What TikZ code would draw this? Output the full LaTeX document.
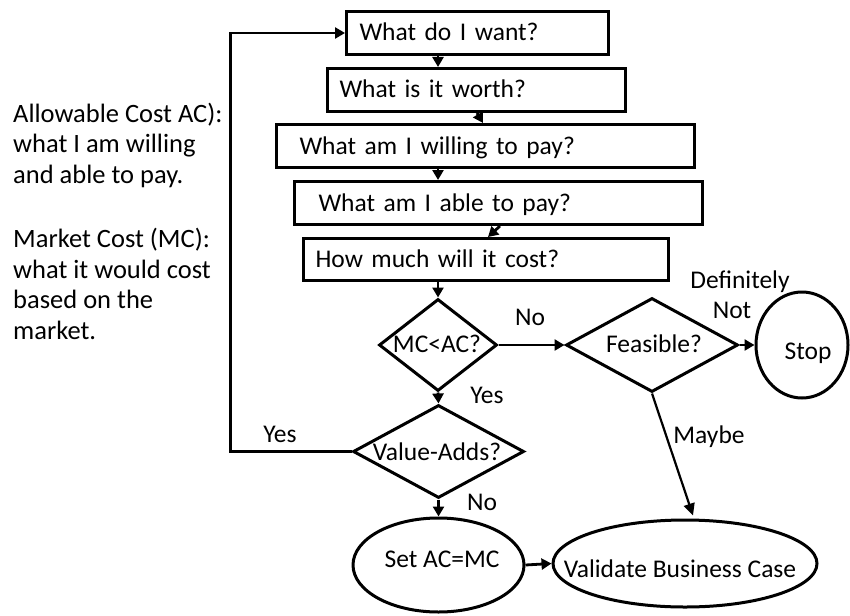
\documentclass[tikz,border=0pt]{standalone}
\usepackage{fontspec}
\setmainfont{Carlito}
\usetikzlibrary{shapes.geometric,arrows.meta}

\begin{document}
\begin{tikzpicture}[x=1pt,y=-1pt,
  txt/.style={font=\fontsize{25.5}{30}\selectfont},
  qbox/.style n args={2}{draw, line width=3pt, rectangle, anchor=north west,
    txt, align=left, text width=#1, inner xsep=#2, inner ysep=0pt,
    text height=20pt, text depth=4pt, minimum height=43pt},
  decision/.style={draw, line width=3pt, diamond, inner sep=0pt},
  terminal/.style={draw, line width=3pt, ellipse, inner sep=0pt},
  lbl/.style={txt, inner sep=0pt, anchor=base},
  note/.style={font=\fontsize{26.5}{30.5}\selectfont, align=left, inner sep=0pt, anchor=base west},
  conn/.style={line width=2.8pt, -{Triangle[length=10pt,width=11pt]}},
  thin conn/.style={line width=2.2pt, -{Triangle[length=12pt,width=11pt]}}]

\useasboundingbox (0,0) rectangle (850,615);

% definitions on the left (anchored on the last line's baseline)
\node[note] (ac) at (13,183) {Allowable Cost AC):\\what I am willing\\and able to pay.};
\node[note] (mc) at (13,339) {Market Cost (MC):\\what it would cost\\based on the\\market.};

% question boxes
\node[qbox={236pt}{13pt}] (b1) at (345,10) {What do I want?};
\node[qbox={274pt}{12pt}] (b2) at (326,67) {What is it worth?};
\node[qbox={372pt}{23pt}] (b3) at (275,123) {What am I willing to pay?};
\node[qbox={360pt}{24pt}] (b4) at (293,180) {What am I able to pay?};
\node[qbox={341pt}{12pt}, minimum height=42pt] (b5) at (302,237) {How much will it cost?};

% decisions
\node[decision, minimum width=118pt, minimum height=92pt] (d1) at (438,345) {};
\node[lbl] (t1) at (437,352) {MC<AC?};
\node[decision, minimum width=171pt, minimum height=93pt] (d2) at (438.5,451.5) {};
\node[lbl] (t2) at (437,460) {Value-Adds?};
\node[decision, minimum width=172pt, minimum height=94pt] (d3) at (652,345) {};
\node[lbl] (t3) at (654,352) {Feasible?};

% end points
\node[terminal, minimum width=92pt, minimum height=106pt] (stop) at (802,345) {};
\node[lbl] (t4) at (808,359) {Stop};
\node[terminal, minimum width=171pt, minimum height=94pt] (e1) at (438.5,565) {};
\node[lbl] (t5) at (442,567) {Set AC=MC};
\node[terminal, minimum width=264pt, minimum height=87pt] (val) at (685,563.5) {};
\node[lbl] (t6) at (680,577) {Validate Business Case};

% flow between the questions
\draw[conn] (b1.south -| d1) -- (b2.north -| d1);
\draw[conn] ([xshift=151pt]b2.south west) -- ([xshift=208pt]b3.north west);
\draw[conn] (b3.south -| d1) -- (b4.north -| d1);
\draw[conn] ([xshift=207pt]b4.south west) -- ([xshift=186pt]b5.north west);
\draw[conn] (b5.south -| d1) -- (d1.north);

% decision branches
\draw[conn] (d1.south) -- (d2.north);
\draw[conn] (d1.east) -- (d3.west);
\draw[conn] (d3.east) -- (stop.west);
\draw[thin conn] (d3.south) -- ([shift={(8pt,3pt)}]val.north);
\draw[conn] (d2.south) -- (e1.north);
\draw[conn] (e1.east) -- (val.west);
\draw[conn] (d2.west) -- ++(-121,0) |- (b1.west);

% branch labels
\node[lbl] (l1) at (530,325) {No};
\node[lbl] (l2) at (487,403) {Yes};
\node[lbl] (l3) at (280,442) {Yes};
\node[lbl] (l4) at (482,510) {No};
\node[lbl] (l5) at (740,288) {Definitely};
\node[lbl] (l6) at (732,318) {Not};
\node[lbl] (l7) at (709,443) {Maybe};
\end{tikzpicture}
\end{document}
